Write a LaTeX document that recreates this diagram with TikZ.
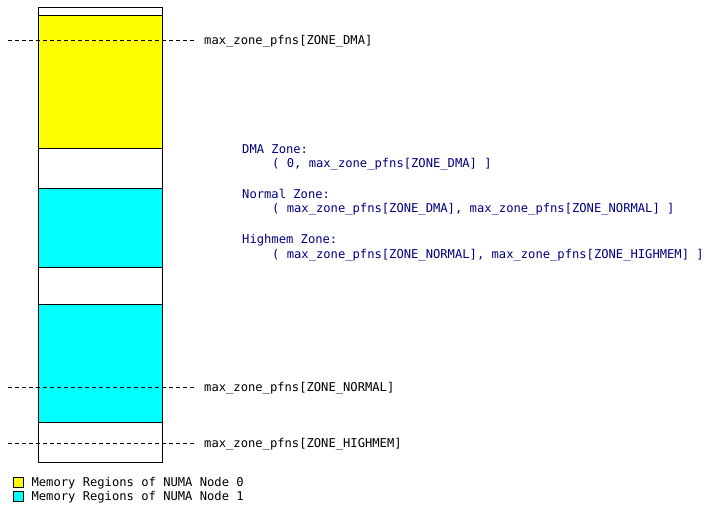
\documentclass[tikz,border=0pt]{standalone}
\usepackage{fontspec}
\setmonofont{DejaVu Sans Mono}
\usetikzlibrary{positioning}
\definecolor{zoneblue}{RGB}{0,0,128}
\definecolor{node0yellow}{RGB}{255,255,0}
\definecolor{node1cyan}{RGB}{0,255,255}
\tikzset{
  seg/.style={draw=black, line width=1pt},
  pfnline/.style={dash pattern=on 4pt off 3pt, line width=0.8pt},
  monotext/.style={inner sep=0pt, font=\ttfamily\fontsize{12.15}{14}\selectfont},
  zonetext/.style={monotext, anchor=west, text=zoneblue},
  legbox/.style={draw=black, line width=0.8pt, minimum size=10pt, inner sep=0pt},
}

\begin{document}
\begin{tikzpicture}[x=1pt,y=-1pt]
\useasboundingbox (0,0) rectangle (712,510);

% memory column
\draw[seg, fill=white]       (38,8)   rectangle (162,16);
\draw[seg, fill=node0yellow] (38,16)  rectangle (162,149);
\draw[seg, fill=white]       (38,149) rectangle (162,189);
\draw[seg, fill=node1cyan]   (38,189) rectangle (162,268);
\draw[seg, fill=white]       (38,268) rectangle (162,305);
\draw[seg, fill=node1cyan]   (38,305) rectangle (162,422);
\draw[seg, fill=white]       (38,422) rectangle (162,462);

% zone boundaries
\coordinate (dmastart) at (8,40);
\coordinate (dmaend) at (195,40);
\node[monotext, right=9pt of dmaend, yshift=-1pt] (dmalabel) {max\_zone\_pfns[ZONE\_DMA]};
\draw[pfnline] (dmastart) -- (dmaend);

\coordinate (normalstart) at (8,387);
\coordinate (normalend) at (195,387);
\node[monotext, right=9pt of normalend, yshift=-1pt] (normallabel) {max\_zone\_pfns[ZONE\_NORMAL]};
\draw[pfnline] (normalstart) -- (normalend);

\coordinate (highstart) at (8,443);
\coordinate (highend) at (195,443);
\node[monotext, right=9pt of highend, yshift=-1pt] (highlabel) {max\_zone\_pfns[ZONE\_HIGHMEM]};
\draw[pfnline] (highstart) -- (highend);

% zone ranges
\node[zonetext] (dmatitle)    at (242,149) {DMA Zone:};
\node[zonetext] (dmarange)    at (272,164) {( 0, max\_zone\_pfns[ZONE\_DMA] ]};
\node[zonetext] (normaltitle) at (242,194) {Normal Zone:};
\node[zonetext] (normalrange) at (272,209) {( max\_zone\_pfns[ZONE\_DMA], max\_zone\_pfns[ZONE\_NORMAL] ]};
\node[zonetext] (hightitle)   at (242,240) {Highmem Zone:};
\node[zonetext] (highrange)   at (272,255) {( max\_zone\_pfns[ZONE\_NORMAL], max\_zone\_pfns[ZONE\_HIGHMEM] ]};

% legend
\node[legbox, fill=node0yellow] (node0box) at (18,482) {};
\node[monotext, right=8pt of node0box, yshift=-1pt] (node0text) {Memory Regions of NUMA Node 0};
\node[legbox, fill=node1cyan] (node1box) at (18,496) {};
\node[monotext, right=8pt of node1box, yshift=-1pt] (node1text) {Memory Regions of NUMA Node 1};

\end{tikzpicture}
\end{document}
